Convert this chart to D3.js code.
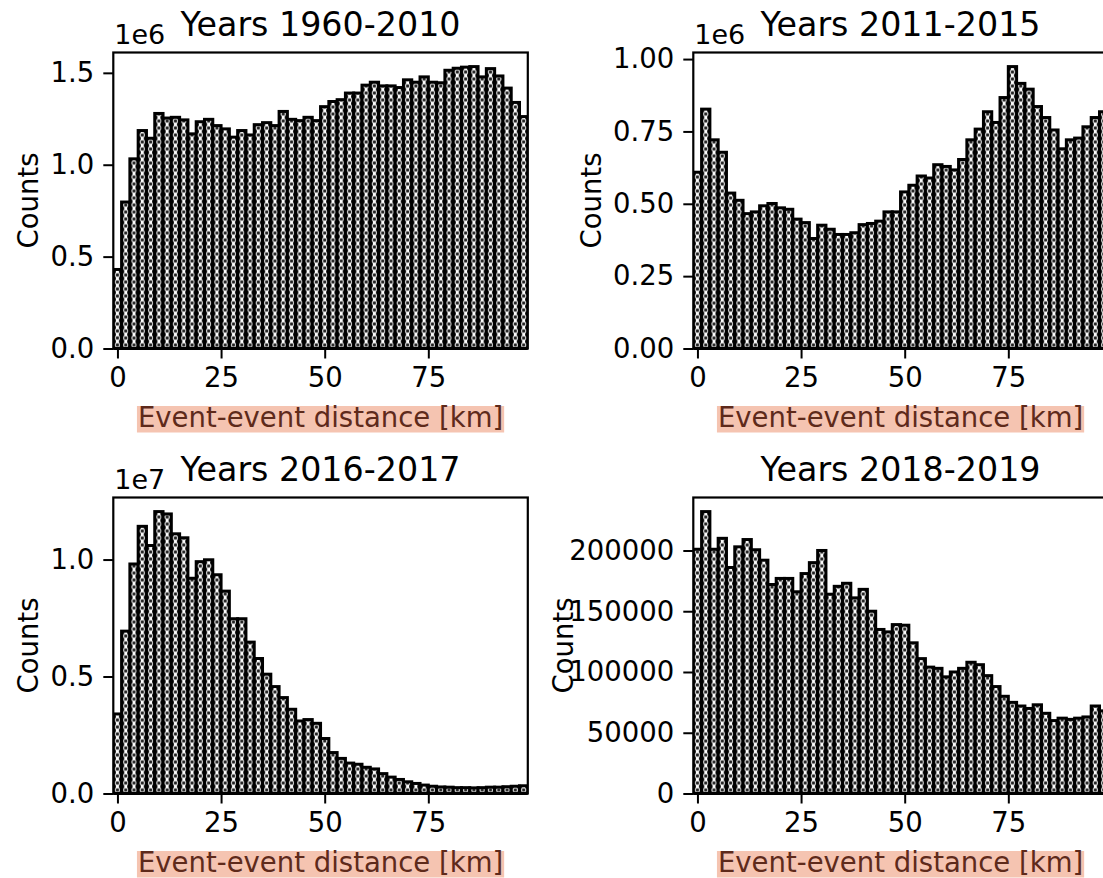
<!DOCTYPE html>
<html>
<head>
<meta charset="utf-8">
<script src="https://cdn.jsdelivr.net/npm/d3@7"></script>
<style>
  body { margin: 0; background: #fff; }
  svg { display: block; font-family: "DejaVu Sans", sans-serif; }
</style>
</head>
<body>
<div id="container"></div>
<script>
// left edges of the 2 km bins
const binStarts = [-1, 1, 3, 5, 7, 9, 11, 13, 15, 17, 19, 21, 23, 25, 27, 29, 31, 33, 35, 37,
  39, 41, 43, 45, 47, 49, 51, 53, 55, 57, 59, 61, 63, 65, 67, 69, 71, 73, 75, 77,
  79, 81, 83, 85, 87, 89, 91, 93, 95, 97]
const binWidth = 2
const xTicks = [0, 25, 50, 75]

const titles = ["Years 1960-2010", "Years 2011-2015", "Years 2016-2017", "Years 2018-2019"]

const counts1960_2010 = [
  430000, 797000, 1032000, 1186000, 1144000, 1279000, 1254000, 1258000, 1244000, 1168000,
  1234000, 1247000, 1213000, 1195000, 1150000, 1186000, 1162000, 1218000, 1229000, 1213000,
  1290000, 1247000, 1240000, 1258000, 1240000, 1316000, 1344000, 1354000, 1390000, 1390000,
  1433000, 1449000, 1429000, 1429000, 1420000, 1462000, 1449000, 1478000, 1449000, 1446000,
  1514000, 1525000, 1531000, 1534000, 1478000, 1523000, 1483000, 1417000, 1339000, 1262000]

const counts2011_2015 = [
  609000, 827000, 721000, 678000, 537000, 512000, 466000, 472000, 493000, 501000,
  486000, 481000, 447000, 435000, 380000, 426000, 412000, 394000, 394000, 400000,
  428000, 432000, 440000, 472000, 472000, 541000, 564000, 596000, 589000, 635000,
  629000, 617000, 653000, 721000, 758000, 818000, 781000, 867000, 974000, 916000,
  896000, 836000, 798000, 755000, 690000, 721000, 727000, 766000, 798000, 818000]

const counts2016_2017 = [
  3400000, 6940000, 9810000, 11420000, 10600000, 12050000, 11950000, 11100000, 10930000, 9200000,
  9910000, 9990000, 9350000, 8650000, 7470000, 7470000, 6470000, 5770000, 5100000, 4570000,
  4100000, 3600000, 3100000, 3160000, 3000000, 2350000, 1750000, 1500000, 1300000, 1250000,
  1120000, 1050000, 850000, 700000, 600000, 500000, 430000, 360000, 310000, 280000,
  270000, 250000, 250000, 240000, 250000, 270000, 270000, 290000, 310000, 330000]

const counts2018_2019 = [
  201000, 232000, 201000, 210000, 186000, 203000, 209000, 200600, 192000, 172000,
  177000, 177000, 166000, 181000, 190000, 200000, 164000, 170500, 173000, 161000,
  168000, 150000, 135000, 133000, 139000, 138500, 124000, 111000, 104000, 103000,
  96000, 100000, 103000, 108000, 106000, 97000, 88000, 80000, 75000, 72000,
  70000, 73000, 66000, 60000, 62000, 61000, 62000, 63000, 72000, 68000]

const yTicks1960_2010 = [0, 500000, 1000000, 1500000]
const yLabels1960_2010 = ["0.0", "0.5", "1.0", "1.5"]
const yTicks2011_2015 = [0, 250000, 500000, 750000, 1000000]
const yLabels2011_2015 = ["0.00", "0.25", "0.50", "0.75", "1.00"]
const yTicks2016_2017 = [0, 5000000, 10000000]
const yLabels2016_2017 = ["0.0", "0.5", "1.0"]
const yTicks2018_2019 = [0, 50000, 100000, 150000, 200000]
const yLabels2018_2019 = ["0", "50000", "100000", "150000", "200000"]

const width = 1103
const height = 878
const axW = 414.5
const axH = 296

const panels = [
  {title: titles[0], counts: counts1960_2010, ticks: yTicks1960_2010, labels: yLabels1960_2010, offset: "1e6", left: 113.3, top: 52.5, ylabelX: 38},
  {title: titles[1], counts: counts2011_2015, ticks: yTicks2011_2015, labels: yLabels2011_2015, offset: "1e6", left: 693.3, top: 52.5, ylabelX: 601},
  {title: titles[2], counts: counts2016_2017, ticks: yTicks2016_2017, labels: yLabels2016_2017, offset: "1e7", left: 113.3, top: 497.5, ylabelX: 38},
  {title: titles[3], counts: counts2018_2019, ticks: yTicks2018_2019, labels: yLabels2018_2019, offset: null, left: 693.3, top: 497.5, ylabelX: 573}
]

const svg = d3.create("svg")
  .attr("width", width)
  .attr("height", height)
  .attr("viewBox", `0 0 ${width} ${height}`)

svg.append("rect").attr("width", width).attr("height", height).attr("fill", "#fff")
const defs = svg.append("defs")

document.querySelector("#container").appendChild(svg.node())

panels.forEach((p, i) => drawPanel(p, i))

function drawPanel(p, i){
  const x = d3.scaleLinear()
    .domain([-1, 99])
    .range([p.left, p.left + axW])
  const y = d3.scaleLinear()
    .domain([0, d3.max(p.counts) * 1.05])
    .range([p.top + axH, p.top])

  // hatch: dots in the middle of each bin, bumps on the bin edges
  const pw = x(binStarts[1]) - x(binStarts[0])
  const ph = 7
  const pat = defs.append("pattern")
    .attr("id", "hatch" + i)
    .attr("patternUnits", "userSpaceOnUse")
    .attr("x", x(binStarts[0]))
    .attr("y", y(0))
    .attr("width", pw)
    .attr("height", ph)
  pat.append("rect").attr("width", pw).attr("height", ph).attr("fill", "#fff")
  pat.append("circle").attr("cx", pw / 2).attr("cy", ph / 2).attr("r", 1.8).attr("fill", "#222")
  ;[[0, 0], [pw, 0], [0, ph], [pw, ph]].forEach(([cx, cy]) => {
    pat.append("circle").attr("cx", cx).attr("cy", cy).attr("r", 2.7).attr("fill", "#000")
  })

  const g = svg.append("g")

  const clipId = "clip" + i
  defs.append("clipPath").attr("id", clipId)
    .append("rect")
    .attr("x", p.left).attr("y", p.top - 2)
    .attr("width", axW).attr("height", axH + 4)

  g.append("g")
    .attr("clip-path", `url(#${clipId})`)
    .selectAll("rect")
    .data(binStarts.map((b, k) => ({b, c: p.counts[k]})))
    .enter().append("rect")
    .attr("x", d => x(d.b))
    .attr("y", d => y(d.c))
    .attr("width", d => x(d.b + binWidth) - x(d.b))
    .attr("height", d => y(0) - y(d.c))
    .attr("fill", `url(#hatch${i})`)
    .attr("stroke", "#000")
    .attr("stroke-width", 3)

  // axes
  const yAxis = g.append("g")
    .attr("transform", `translate(${p.left},0)`)
    .call(d3.axisLeft(y).tickValues(p.ticks).tickFormat((d, k) => p.labels[k]).tickSize(10).tickPadding(9))
  const xAxis = g.append("g")
    .attr("transform", `translate(0,${p.top + axH})`)
    .call(d3.axisBottom(x).tickValues(xTicks).tickSize(10).tickPadding(9))

  ;[yAxis, xAxis].forEach(a => {
    a.select(".domain").remove()
    a.selectAll(".tick line").attr("stroke", "#000").attr("stroke-width", 2)
    a.selectAll(".tick text")
      .attr("fill", "#000")
      .style("font-family", "'DejaVu Sans', sans-serif")
      .style("font-size", "27.5px")
  })

  // spines
  g.append("rect")
    .attr("x", p.left).attr("y", p.top)
    .attr("width", axW).attr("height", axH)
    .attr("fill", "none")
    .attr("stroke", "#000")
    .attr("stroke-width", 2.2)

  g.append("text")
    .attr("x", p.left + axW / 2)
    .attr("y", p.top - 16.5)
    .attr("text-anchor", "middle")
    .style("font-size", "33.3px")
    .text(p.title)

  if (p.offset) {
    g.append("text")
      .attr("x", p.left + 1)
      .attr("y", p.top - 8.5)
      .style("font-size", "27px")
      .text(p.offset)
  }

  g.append("text")
    .attr("transform", `translate(${p.ylabelX},${p.top + axH / 2}) rotate(-90)`)
    .attr("text-anchor", "middle")
    .style("font-size", "27.5px")
    .text("Counts")

  // x label with its salmon box
  const lab = g.append("g")
  const labY = p.top + axH + 78
  const t = lab.append("text")
    .attr("x", p.left + axW / 2)
    .attr("y", labY)
    .attr("text-anchor", "middle")
    .attr("fill", "#5e2a1b")
    .style("font-size", "27.5px")
    .text("Event-event distance [km]")
  const bb = t.node().getBBox()
  lab.insert("rect", "text")
    .attr("x", bb.x - 1)
    .attr("y", labY - 20.5)
    .attr("width", bb.width + 2)
    .attr("height", 26.5)
    .attr("fill", "#f5c4b1")
}
</script>
</body>
</html>
